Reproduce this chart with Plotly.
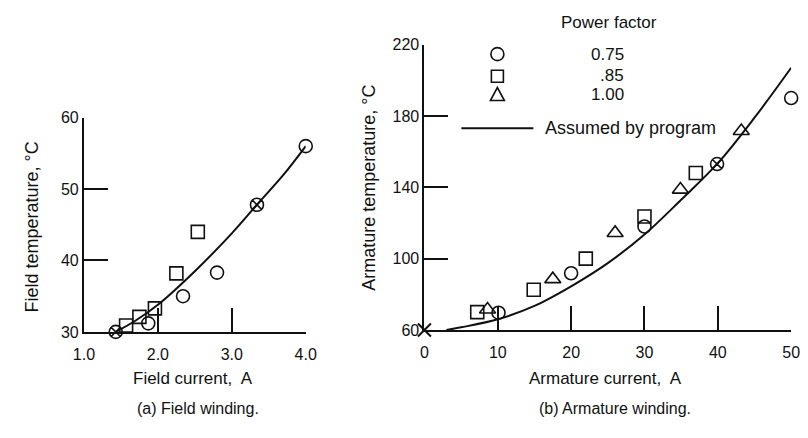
import plotly.graph_objects as go

# ---------------- data (a) field winding ----------------
field_pf075_I = [1.87, 2.34, 2.80, 4.00]
field_pf075_T = [31.2, 35.0, 38.3, 56.0]
field_pf085_I = [1.57, 1.75, 1.96, 2.25, 2.54]
field_pf085_T = [30.9, 32.1, 33.3, 38.2, 44.0]
field_both_I = [1.43, 3.34]
field_both_T = [30.0, 47.8]
field_curve_I = [1.43, 1.70, 2.00, 2.50, 3.00, 3.34, 3.70, 4.00]
field_curve_T = [30.0, 31.6, 33.8, 38.5, 43.8, 47.8, 52.0, 56.0]
field_xticks = [1, 2, 3, 4]
field_xlabels = ["1.0", "2.0", "3.0", "4.0"]
field_yticks = [30, 40, 50, 60]

# ---------------- data (b) armature winding ----------------
arm_pf075_I = [10.1, 20.0, 30.0, 50.0]
arm_pf075_T = [69.7, 91.8, 118.0, 190.0]
arm_pf085_I = [7.2, 14.9, 22.0, 30.0, 37.0]
arm_pf085_T = [70.0, 82.6, 100.0, 123.6, 148.0]
arm_pf100_I = [8.6, 17.5, 26.0, 34.9, 43.2]
arm_pf100_T = [71.5, 88.5, 114.4, 138.7, 171.5]
arm_both_I = [39.9]
arm_both_T = [153.0]
arm_x_I = [0.0]
arm_x_T = [60.0]
arm_curve_I = [3, 5, 10, 15, 20, 25, 30, 35, 40, 45, 50]
arm_curve_T = [60.0, 61.5, 66.0, 73.5, 84.5, 97.5, 113.5, 133.0, 153.5, 179.0, 207.0]
arm_xticks = [0, 10, 20, 30, 40, 50]
arm_yticks = [60, 100, 140, 180, 220]

legend_labels = ["0.75", ".85", "1.00"]

W, H = 808, 438
FONT = "Liberation Sans, Arial, sans-serif"
BLACK = "#111111"

def px(x):
    return x / W

def py(y):
    return 1 - y / H

fig = go.Figure()

mk = dict(color="rgba(0,0,0,0)", line=dict(color=BLACK, width=1.6))

# (a)
fig.add_trace(go.Scatter(x=field_curve_I, y=field_curve_T, mode="lines",
                         line=dict(color=BLACK, width=2, shape="spline"),
                         xaxis="x", yaxis="y", showlegend=False))
fig.add_trace(go.Scatter(x=field_pf075_I, y=field_pf075_T, mode="markers",
                         marker=dict(symbol="circle", size=13, **mk),
                         xaxis="x", yaxis="y", cliponaxis=False, showlegend=False))
fig.add_trace(go.Scatter(x=field_pf085_I, y=field_pf085_T, mode="markers",
                         marker=dict(symbol="square", size=13, **mk),
                         xaxis="x", yaxis="y", cliponaxis=False, showlegend=False))
fig.add_trace(go.Scatter(x=field_both_I, y=field_both_T, mode="markers",
                         marker=dict(symbol="circle-x", size=13, **mk),
                         xaxis="x", yaxis="y", cliponaxis=False, showlegend=False))

# (b)
fig.add_trace(go.Scatter(x=arm_curve_I, y=arm_curve_T, mode="lines",
                         line=dict(color=BLACK, width=2, shape="spline"),
                         xaxis="x2", yaxis="y2", showlegend=False))
fig.add_trace(go.Scatter(x=arm_pf075_I, y=arm_pf075_T, mode="markers",
                         marker=dict(symbol="circle", size=13, **mk),
                         xaxis="x2", yaxis="y2", cliponaxis=False, showlegend=False))
fig.add_trace(go.Scatter(x=arm_pf085_I, y=arm_pf085_T, mode="markers",
                         marker=dict(symbol="square", size=13, **mk),
                         xaxis="x2", yaxis="y2", cliponaxis=False, showlegend=False))
fig.add_trace(go.Scatter(x=arm_pf100_I, y=arm_pf100_T, mode="markers",
                         marker=dict(symbol="triangle-up", size=14, **mk),
                         xaxis="x2", yaxis="y2", cliponaxis=False, showlegend=False))
fig.add_trace(go.Scatter(x=arm_both_I, y=arm_both_T, mode="markers",
                         marker=dict(symbol="circle-x", size=13, **mk),
                         xaxis="x2", yaxis="y2", cliponaxis=False, showlegend=False))
fig.add_trace(go.Scatter(x=arm_x_I, y=arm_x_T, mode="markers",
                         marker=dict(symbol="x-thin", size=13, line=dict(color=BLACK, width=2)),
                         xaxis="x2", yaxis="y2", cliponaxis=False, showlegend=False))

axis_common = dict(showline=True, linecolor=BLACK, linewidth=2, ticks="inside",
                   ticklen=24, tickwidth=1.8, tickcolor=BLACK, showgrid=False,
                   zeroline=False, tickfont=dict(family=FONT, size=16, color=BLACK),
                   ticklabeloverflow="allow", fixedrange=True)

fig.update_layout(
    width=W, height=H,
    margin=dict(l=0, r=0, t=0, b=0),
    paper_bgcolor="white", plot_bgcolor="white",
    font=dict(family=FONT, color=BLACK),
    xaxis=dict(domain=[px(75), px(303)], range=[1, 4], tickvals=field_xticks,
               ticktext=field_xlabels, anchor="y", ticklabelstandoff=7, **axis_common),
    yaxis=dict(domain=[py(337), py(114)], range=[30, 60], tickvals=field_yticks,
               anchor="x", **axis_common),
    xaxis2=dict(domain=[px(425), px(802)], range=[0, 50], tickvals=arm_xticks,
                anchor="y2", ticklabelstandoff=7, **axis_common),
    yaxis2=dict(domain=[py(335), py(38)], range=[60, 220], tickvals=arm_yticks,
                anchor="x2", **axis_common),
)

ann = []
def text(x, y, s, size=17, angle=0, xanchor="center"):
    ann.append(dict(x=px(x), y=py(y), xref="paper", yref="paper", text=s,
                    showarrow=False, textangle=angle, xanchor=xanchor,
                    yanchor="middle", font=dict(family=FONT, size=size, color=BLACK)))

text(22, 228, "Field temperature, °C", size=18, angle=-90)
text(368, 187, "Armature temperature, °C", size=18, angle=-90)
text(187, 385, "Field current,  A")
text(611, 385, "Armature current,  A")
text(192, 417, "(a) Field winding.", size=16)
text(621, 417, "(b) Armature winding.", size=16)
text(615, 15, "Power factor")
for lab, yy in zip(legend_labels, [48, 70, 90]):
    text(632, yy, lab, xanchor="right")
text(547, 125, "Assumed by program", size=18, xanchor="left")

shapes = []
# legend symbols
shapes.append(dict(type="circle", xref="paper", yref="paper", xsizemode="pixel",
                   ysizemode="pixel", xanchor=px(500), yanchor=py(48),
                   x0=-6.5, x1=6.5, y0=-6.5, y1=6.5, line=dict(color=BLACK, width=1.6)))
shapes.append(dict(type="rect", xref="paper", yref="paper", xsizemode="pixel",
                   ysizemode="pixel", xanchor=px(500), yanchor=py(71),
                   x0=-6, x1=6, y0=-6, y1=6, line=dict(color=BLACK, width=1.6)))
shapes.append(dict(type="path", xref="paper", yref="paper", xsizemode="pixel",
                   ysizemode="pixel", xanchor=px(500), yanchor=py(90),
                   path="M -7,-6 L 7,-6 L 0,7 Z", line=dict(color=BLACK, width=1.6)))
shapes.append(dict(type="line", xref="paper", yref="paper", x0=px(463), x1=px(537),
                   y0=py(125), y1=py(125), line=dict(color=BLACK, width=2)))

fig.update_layout(annotations=ann, shapes=shapes)

fig.write_html("out.html")
